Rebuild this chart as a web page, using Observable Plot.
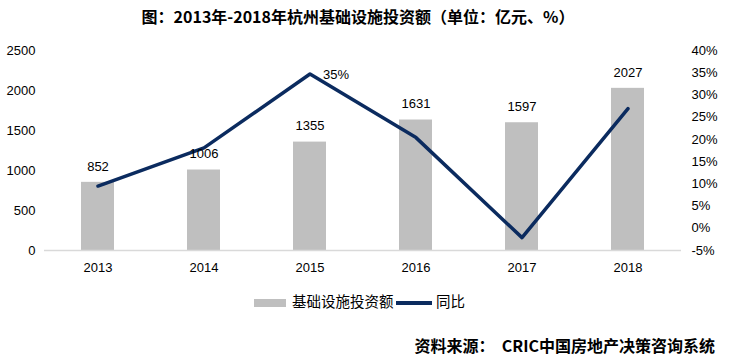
<!DOCTYPE html>
<html>
<head>
<meta charset="utf-8">
<script src="https://cdn.jsdelivr.net/npm/d3@7"></script>
<script src="https://cdn.jsdelivr.net/npm/@observablehq/plot@0.6"></script>
<style>
  body { margin: 0; background: #fff; width: 740px; height: 361px; overflow: hidden; position: relative; font-family: "Noto Sans CJK SC", sans-serif; }
  #title { position: absolute; left: 0; top: 0; width: 716px; height: 32px; line-height: 32px; text-align: center; font-size: 16px; font-weight: bold; color: #000; }
  #chart { position: absolute; left: 0; top: 32px; }
  .leg { position: absolute; font-size: 14.5px; color: #000; line-height: 20px; }
  #caption { position: absolute; right: 25px; top: 334px; font-size: 16px; font-weight: bold; line-height: 22px; color: #000; }
</style>
</head>
<body>
<div id="title">图：2013年-2018年杭州基础设施投资额（单位：亿元、%）</div>
<div id="chart"></div>
<div class="leg" style="left:254px; top:299px; width:32px; height:8px; background:#bfbfbf;"></div>
<div class="leg" style="left:292px; top:291px;">基础设施投资额</div>
<div class="leg" style="left:396px; top:301px; width:36px; height:4px; background:#0b2b5f;"></div>
<div class="leg" style="left:436px; top:291px;">同比</div>
<div id="caption">资料来源：&nbsp;&nbsp;CRIC中国房地产决策咨询系统</div>
<script>
const years = ["2013", "2014", "2015", "2016", "2017", "2018"];
const investment = [852, 1006, 1355, 1631, 1597, 2027];
const growth = [9.5, 18.1, 34.7, 20.4, -2.1, 26.9];
const leftTicks = [0, 500, 1000, 1500, 2000, 2500];
const rightTicks = [-5, 0, 5, 10, 15, 20, 25, 30, 35, 40];
const pctLabelYear = "2015";
const pctLabelText = "35%";

// map percent onto the left scale (-5% -> 0, 40% -> 2500)
const pctToY = p => (p + 5) * 2500 / 45;
const yToPct = v => Math.round(v * 45 / 2500 - 5);

const bars = years.map((y, i) => ({year: y, value: investment[i]}));
const line = years.map((y, i) => ({year: y, value: pctToY(growth[i])}));
const pctLabel = line.filter(d => d.year === pctLabelYear);

const font = "Liberation Sans, Arial, sans-serif";

const chart = Plot.plot({
  width: 740,
  height: 250,
  marginTop: 18,
  marginBottom: 32,
  marginLeft: 44,
  marginRight: 59,
  style: {fontFamily: font, fontSize: "13px", color: "#000", background: "transparent"},
  x: {domain: years, paddingInner: 0.69, paddingOuter: 0.345, label: null},
  y: {domain: [0, 2500], label: null},
  marks: [
    Plot.axisY(leftTicks, {anchor: "left", tickSize: 0, tickPadding: 9, tickFormat: v => String(v), label: null, fontSize: 13}),
    Plot.axisY(rightTicks.map(pctToY), {anchor: "right", tickSize: 0, tickPadding: 10, textAnchor: "start", tickFormat: v => yToPct(v) + "%", label: null, fontSize: 13}),
    Plot.axisX({tickSize: 0, tickPadding: 12, label: null, fontSize: 13}),
    Plot.barY(bars, {x: "year", y: "value", fill: "#bfbfbf"}),
    Plot.ruleY([0], {stroke: "#d9d9d9", strokeWidth: 1.5}),
    Plot.line(line, {x: "year", y: "value", stroke: "#0b2b5f", strokeWidth: 3.5, strokeLinejoin: "round", strokeLinecap: "round"}),
    Plot.text(bars, {x: "year", y: "value", text: d => String(d.value), dy: -16, fontSize: 13, fill: "#000"}),
    Plot.text(pctLabel, {x: "year", y: "value", text: () => pctLabelText, dx: 26, dy: 1, fontSize: 13, fill: "#000"})
  ]
});
document.getElementById("chart").appendChild(chart);
</script>
</body>
</html>
